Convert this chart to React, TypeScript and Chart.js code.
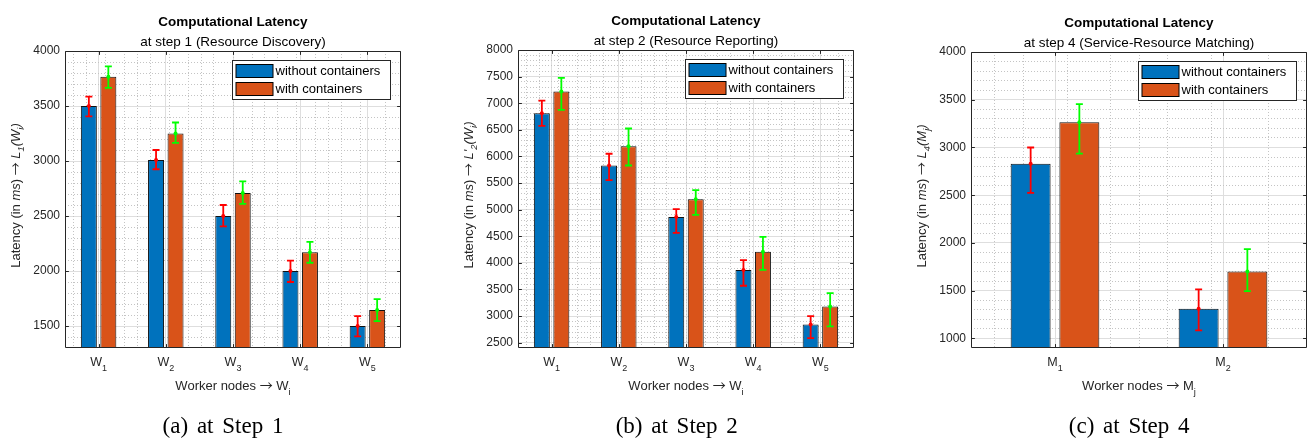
import React, { useEffect, useRef } from 'react';
import { Chart, registerables } from 'chart.js';

Chart.register(...registerables);

const FONT = '"Liberation Sans", Arial, Helvetica, sans-serif';
const ARROW_FONT = '"Noto Sans CJK JP", "DejaVu Sans", sans-serif';
const SERIF = '"Liberation Serif", "Times New Roman", serif';
const AXIS_COLOR = '#262626';
const MAJOR_GRID = '#dedede';
const MINOR_GRID = '#c4c4c4';

const seriesLabels = ['without containers', 'with containers'];
const barColors = ['#0072BD', '#D95319'];
const errorColors = ['#FF0000', '#00FF00'];

// (a) step 1
const step1Nodes = ['W_1', 'W_2', 'W_3', 'W_4', 'W_5'];
const step1Without = [3500, 3010, 2500, 2000, 1500];
const step1WithoutUp = [85, 90, 100, 95, 90];
const step1WithoutDown = [95, 85, 95, 100, 95];
const step1With = [3765, 3250, 2710, 2170, 1645];
const step1WithUp = [95, 100, 105, 95, 100];
const step1WithDown = [100, 85, 100, 95, 100];
const step1YTicks = [1500, 2000, 2500, 3000, 3500, 4000];

// (b) step 2
const step2Nodes = ['W_1', 'W_2', 'W_3', 'W_4', 'W_5'];
const step2Without = [6810, 5830, 4860, 3865, 2840];
const step2WithoutUp = [240, 220, 150, 185, 160];
const step2WithoutDown = [235, 275, 295, 295, 255];
const step2With = [7220, 6190, 5195, 4210, 3180];
const step2WithUp = [255, 335, 170, 280, 250];
const step2WithDown = [345, 360, 295, 340, 375];
const step2YTicks = [2500, 3000, 3500, 4000, 4500, 5000, 5500, 6000, 6500, 7000, 7500, 8000];

// (c) step 4
const step4Nodes = ['M_1', 'M_2'];
const step4Without = [2830, 1310];
const step4WithoutUp = [170, 205];
const step4WithoutDown = [305, 225];
const step4With = [3265, 1700];
const step4WithUp = [190, 235];
const step4WithDown = [330, 205];
const step4YTicks = [1000, 1500, 2000, 2500, 3000, 3500, 4000];

type Seg = { t: string; it?: boolean; sub?: boolean; f?: string };

const ARROW: Seg[] = [{ t: ' ' }, { t: '\u2192', f: ARROW_FONT }, { t: ' ' }];

const panels = [
  {
    key: 'a',
    left: 0,
    width: 440,
    area: { left: 65, right: 401, top: 51, bottom: 348 },
    yMin: 1300,
    yMax: 4000,
    minorStep: 100,
    yTicks: step1YTicks,
    categories: step1Nodes,
    values: [step1Without, step1With],
    up: [step1WithoutUp, step1WithUp],
    down: [step1WithoutDown, step1WithDown],
    title: 'Computational Latency',
    subtitle: 'at step 1 (Resource Discovery)',
    yLabel: [
      { t: 'Latency (in ' },
      { t: 'ms', it: true },
      { t: ')' },
      ...ARROW,
      { t: 'L', it: true },
      { t: '1', it: true, sub: true },
      { t: '(W', it: true },
      { t: 'i', it: true, sub: true },
      { t: ')', it: true },
    ] as Seg[],
    xLabel: [{ t: 'Worker nodes' }, ...ARROW, { t: 'W' }, { t: 'i', sub: true }] as Seg[],
    caption: '(a) at Step 1',
    captionX: 223,
  },
  {
    key: 'b',
    left: 440,
    width: 440,
    area: { left: 78, right: 414, top: 50, bottom: 348 },
    yMin: 2400,
    yMax: 8000,
    minorStep: 100,
    yTicks: step2YTicks,
    categories: step2Nodes,
    values: [step2Without, step2With],
    up: [step2WithoutUp, step2WithUp],
    down: [step2WithoutDown, step2WithDown],
    title: 'Computational Latency',
    subtitle: 'at step 2 (Resource Reporting)',
    yLabel: [
      { t: 'Latency (in ' },
      { t: 'ms', it: true },
      { t: ')' },
      ...ARROW,
      { t: "L'", it: true },
      { t: '2', it: true, sub: true },
      { t: '(W', it: true },
      { t: 'i', it: true, sub: true },
      { t: ')', it: true },
    ] as Seg[],
    xLabel: [{ t: 'Worker nodes' }, ...ARROW, { t: 'W' }, { t: 'i', sub: true }] as Seg[],
    caption: '(b) at Step 2',
    captionX: 236.7,
  },
  {
    key: 'c',
    left: 880,
    width: 430,
    area: { left: 91, right: 427, top: 52, bottom: 348 },
    yMin: 900,
    yMax: 4000,
    minorStep: 100,
    yTicks: step4YTicks,
    categories: step4Nodes,
    values: [step4Without, step4With],
    up: [step4WithoutUp, step4WithUp],
    down: [step4WithoutDown, step4WithDown],
    title: 'Computational Latency',
    subtitle: 'at step 4 (Service-Resource Matching)',
    yLabel: [
      { t: 'Latency (in ' },
      { t: 'ms', it: true },
      { t: ')' },
      ...ARROW,
      { t: 'L', it: true },
      { t: '4', it: true, sub: true },
      { t: '(M', it: true },
      { t: 'j', it: true, sub: true },
      { t: ')', it: true },
    ] as Seg[],
    xLabel: [{ t: 'Worker nodes' }, ...ARROW, { t: 'M' }, { t: 'j', sub: true }] as Seg[],
    caption: '(c) at Step 4',
    captionX: 249.2,
  },
];

type PanelCfg = (typeof panels)[number];

function parseSub(label: string): Seg[] {
  const [base, sub] = label.split('_');
  const out: Seg[] = [{ t: base }];
  if (sub) out.push({ t: sub, sub: true });
  return out;
}

function drawRich(ctx: CanvasRenderingContext2D, segs: Seg[], x: number, y: number, size: number, subScale = 0.7, subShift = 0.38) {
  const fontOf = (s: Seg) => `${s.it ? 'italic ' : ''}${s.sub ? size * subScale : size}px ${s.f || FONT}`;
  let total = 0;
  const widths = segs.map((s) => {
    ctx.font = fontOf(s);
    const w = ctx.measureText(s.t).width;
    total += w;
    return w;
  });
  let cx = x - total / 2;
  ctx.textAlign = 'left';
  ctx.textBaseline = 'alphabetic';
  segs.forEach((s, i) => {
    ctx.font = fontOf(s);
    ctx.fillText(s.t, cx, y + (s.sub ? size * subShift : 0));
    cx += widths[i];
  });
}

function buildConfig(cfg: PanelCfg): any {
  const H = 438;
  const n = cfg.categories.length;

  const panelPlugin = {
    id: 'panel_' + cfg.key,
    afterDatasetsDraw(chart: any) {
      const ctx: CanvasRenderingContext2D = chart.ctx;
      const y = chart.scales.y;
      ctx.save();
      cfg.values.forEach((vals, di) => {
        const meta = chart.getDatasetMeta(di);
        meta.data.forEach((el: any, j: number) => {
          const v = vals[j];
          const x = el.x;
          const yt = y.getPixelForValue(v + cfg.up[di][j]);
          const yb = y.getPixelForValue(v - cfg.down[di][j]);
          const yc = y.getPixelForValue(v);
          ctx.strokeStyle = errorColors[di];
          ctx.fillStyle = errorColors[di];
          ctx.lineWidth = 1.8;
          ctx.beginPath();
          ctx.moveTo(x, yt);
          ctx.lineTo(x, yb);
          ctx.moveTo(x - 3.5, yt);
          ctx.lineTo(x + 3.5, yt);
          ctx.moveTo(x - 3.5, yb);
          ctx.lineTo(x + 3.5, yb);
          ctx.stroke();
          ctx.beginPath();
          ctx.arc(x, yc, 2, 0, Math.PI * 2);
          ctx.fill();
        });
      });
      ctx.restore();
    },
    afterDraw(chart: any) {
      const ctx: CanvasRenderingContext2D = chart.ctx;
      const a = chart.chartArea;
      const xs = chart.scales.x;
      const ys = chart.scales.y;
      ctx.save();

      // axes box
      const L = Math.round(a.left) + 0.5;
      const R = Math.round(a.right) - 0.5;
      const T = Math.round(a.top) + 0.5;
      const B = Math.round(a.bottom) - 0.5;
      ctx.strokeStyle = AXIS_COLOR;
      ctx.lineWidth = 1;
      ctx.beginPath();
      ctx.rect(L, T, R - L, B - T);
      const tl = 3.4;
      cfg.yTicks.forEach((v) => {
        const py = Math.round(ys.getPixelForValue(v)) + 0.5;
        ctx.moveTo(L, py);
        ctx.lineTo(L + tl, py);
        ctx.moveTo(R, py);
        ctx.lineTo(R - tl, py);
      });
      cfg.categories.forEach((_, i) => {
        const px = Math.round(xs.getPixelForValue(i)) + 0.5;
        ctx.moveTo(px, B);
        ctx.lineTo(px, B - tl);
        ctx.moveTo(px, T);
        ctx.lineTo(px, T + tl);
      });
      ctx.stroke();

      // x tick labels with subscripts
      ctx.fillStyle = AXIS_COLOR;
      cfg.categories.forEach((lab, i) => {
        const px = xs.getPixelForValue(i);
        drawRich(ctx, parseSub(lab), px, a.bottom + 18, 12.5, 0.72, 0.4);
      });

      // axis titles
      const cx = (a.left + a.right) / 2;
      const cy = (a.top + a.bottom) / 2;
      drawRich(ctx, cfg.xLabel, cx, a.bottom + 42, 13, 0.72, 0.38);
      ctx.save();
      ctx.translate(a.left - 45, cy - 4);
      ctx.rotate(-Math.PI / 2);
      drawRich(ctx, cfg.yLabel, 0, 0, 13, 0.72, 0.3);
      ctx.restore();

      // titles
      ctx.fillStyle = '#000';
      ctx.textAlign = 'center';
      ctx.textBaseline = 'alphabetic';
      ctx.font = `bold 13.5px ${FONT}`;
      ctx.fillText(cfg.title, cx, a.top - 25.5);
      ctx.font = `13.5px ${FONT}`;
      ctx.fillText(cfg.subtitle, cx, a.top - 5.5);

      // legend
      const lw = 158;
      const lh = 39;
      const lx = Math.round(a.right - 11 - lw) + 0.5;
      const ly = Math.round(a.top + 9) + 0.5;
      ctx.fillStyle = '#ffffff';
      ctx.fillRect(lx, ly, lw, lh);
      ctx.strokeStyle = AXIS_COLOR;
      ctx.lineWidth = 1;
      ctx.strokeRect(lx, ly, lw, lh);
      chart.data.datasets.forEach((ds: any, i: number) => {
        const sy = ly + 4 + i * 18;
        ctx.fillStyle = ds.backgroundColor;
        ctx.fillRect(lx + 3.5, sy, 37, 13);
        ctx.strokeStyle = '#000';
        ctx.strokeRect(lx + 3.5, sy, 37, 13);
        ctx.fillStyle = '#000';
        ctx.font = `13px ${FONT}`;
        ctx.textAlign = 'left';
        ctx.textBaseline = 'middle';
        ctx.fillText(ds.label, lx + 43, sy + 7);
      });

      // caption
      ctx.fillStyle = '#000';
      ctx.font = `23px ${SERIF}`;
      ctx.textBaseline = 'alphabetic';
      ctx.textAlign = 'left';
      const words = cfg.caption.split(' ');
      const sp = ctx.measureText(' ').width + 3;
      const ws = words.map((w) => ctx.measureText(w).width);
      const total = ws.reduce((s, w) => s + w, 0) + sp * (words.length - 1);
      let wx = cfg.captionX - total / 2;
      words.forEach((w, i) => {
        ctx.fillText(w, wx, 433);
        wx += ws[i] + sp;
      });

      ctx.restore();
    },
  };

  return {
    type: 'bar',
    data: {
      labels: cfg.categories,
      datasets: cfg.values.map((vals, i) => ({
        label: seriesLabels[i],
        data: vals,
        backgroundColor: barColors[i],
        borderColor: '#111111',
        borderWidth: 1,
        borderSkipped: false,
        inflateAmount: 0,
        categoryPercentage: 0.58,
        barPercentage: 0.82,
        xAxisID: 'x',
        yAxisID: 'y',
      })),
    },
    options: {
      responsive: false,
      animation: false,
      devicePixelRatio: 1,
      layout: {
        padding: { left: 0, right: cfg.width - cfg.area.right, top: cfg.area.top, bottom: 0 },
      },
      plugins: {
        legend: { display: false },
        title: { display: false },
        tooltip: { enabled: false },
      },
      scales: {
        x: {
          type: 'category',
          position: 'bottom',
          offset: true,
          grid: { display: true, offset: false, color: MAJOR_GRID, lineWidth: 1, drawTicks: false },
          border: { display: false },
          ticks: { display: false },
          afterFit: (s: any) => {
            s.height = H - cfg.area.bottom;
          },
        },
        y: {
          type: 'linear',
          position: 'left',
          min: cfg.yMin,
          max: cfg.yMax,
          grid: { color: MAJOR_GRID, lineWidth: 1, drawTicks: false },
          border: { display: false },
          ticks: {
            color: AXIS_COLOR,
            font: { family: FONT, size: 12 },
            padding: 5,
            callback: (v: any) => String(v),
          },
          afterBuildTicks: (s: any) => {
            s.ticks = cfg.yTicks.map((v) => ({ value: v }));
          },
          afterFit: (s: any) => {
            s.width = cfg.area.left;
          },
        },
        yMinor: {
          type: 'linear',
          axis: 'y',
          position: 'right',
          min: cfg.yMin,
          max: cfg.yMax,
          grid: { color: MINOR_GRID, lineWidth: 1, drawTicks: false },
          border: { display: false, dash: [1, 2] },
          ticks: { display: false },
          afterBuildTicks: (s: any) => {
            const t: any[] = [];
            for (let v = cfg.yMin; v < cfg.yMax; v += cfg.minorStep) {
              if (v % 500 !== 0 && v > cfg.yMin) t.push({ value: v });
            }
            s.ticks = t;
          },
          afterFit: (s: any) => {
            s.width = 0;
          },
        },
        xMinor: {
          type: 'linear',
          axis: 'x',
          position: 'top',
          min: -0.5,
          max: n - 0.5,
          grid: { color: MINOR_GRID, lineWidth: 1, drawTicks: false },
          border: { display: false, dash: [1, 2] },
          ticks: { display: false },
          afterBuildTicks: (s: any) => {
            const t: any[] = [];
            for (let k = 1; k < n * 5; k++) {
              const v = -0.5 + k * 0.2 - 0.1;
              const r = Math.round(v * 10) / 10;
              if (Math.abs(r - Math.round(r)) > 0.01 && r > -0.5 && r < n - 0.5) t.push({ value: r });
            }
            s.ticks = t;
          },
          afterFit: (s: any) => {
            s.height = 0;
          },
        },
      },
    },
    plugins: [panelPlugin],
  };
}

function Panel({ cfg }: { cfg: PanelCfg }) {
  const ref = useRef<HTMLCanvasElement>(null);
  useEffect(() => {
    if (!ref.current) return;
    const chart = new Chart(ref.current, buildConfig(cfg));
    return () => chart.destroy();
  }, [cfg]);
  return (
    <canvas
      ref={ref}
      width={cfg.width}
      height={438}
      style={{ position: 'absolute', left: cfg.left, top: 0, width: cfg.width, height: 438 }}
    />
  );
}

export default function App() {
  return (
    <div style={{ position: 'absolute', left: 0, top: 0, width: 1310, height: 438, background: '#ffffff', overflow: 'hidden' }}>
      {panels.map((p) => (
        <Panel key={p.key} cfg={p} />
      ))}
    </div>
  );
}
